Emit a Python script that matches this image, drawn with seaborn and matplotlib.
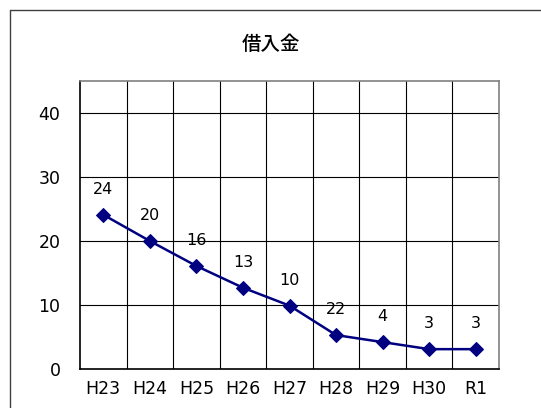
import numpy as np
import pandas as pd
import matplotlib.pyplot as plt
import seaborn as sns
from matplotlib.lines import Line2D

sns.set_style('white')
plt.rcParams['font.family'] = ['DejaVu Sans', 'Noto Sans CJK JP']
plt.rcParams['text.color'] = 'black'
plt.rcParams['xtick.color'] = 'black'
plt.rcParams['ytick.color'] = 'black'

years = ['H23', 'H24', 'H25', 'H26', 'H27', 'H28', 'H29', 'H30', 'R1']
values = [24.1, 20.0, 16.1, 12.7, 9.9, 5.3, 4.2, 3.1, 3.1]
labels = ['24', '20', '16', '13', '10', '22', '4', '3', '3']

df = pd.DataFrame({'year': years, 'value': values})
df['pos'] = np.arange(len(years))

fig = plt.figure(figsize=(5.41, 4.08), dpi=100)
ax = fig.add_axes([80/541, 1-369/408, 419/541, 288/408])

sns.lineplot(data=df, x='pos', y='value', ax=ax, color='#000080', lw=1.8,
             marker='D', markersize=7, markeredgecolor='#000080')

for x, y, t in zip(df['pos'], df['value'], labels):
    ax.annotate(t, (x, y), xytext=(0, 13), textcoords='offset points',
                ha='center', va='bottom', fontsize=11.5, color='black')

ax.set_xlim(-0.5, len(years) - 0.5)
ax.set_ylim(0, 45)
ax.set_yticks([0, 10, 20, 30, 40])
ax.set_xticks(df['pos'])
ax.set_xticklabels(years)
ax.set_xticks(np.arange(0.5, len(years) - 0.5), minor=True)
ax.grid(True, which='minor', axis='x', color='black', lw=0.8)
ax.grid(True, which='major', axis='y', color='black', lw=0.8)
ax.tick_params(axis='both', which='both', length=0, labelsize=12.5,
               labelcolor='black')
ax.tick_params(axis='y', pad=14)
ax.tick_params(axis='x', pad=8)
ax.set_xlabel('')
ax.set_ylabel('')
for s in ['top', 'right']:
    ax.spines[s].set_color('#808080')
for s in ['left', 'bottom']:
    ax.spines[s].set_color('black')
for s in ax.spines.values():
    s.set_linewidth(1.2)

fig.text(0.5, 1 - 44/408, '借入金', ha='center', va='center', fontsize=14,
         family=['Noto Sans CJK JP'], fontweight='medium', color='black')

# outer frame
fig.add_artist(Line2D([10/541, 10/541], [0, 1 - 10/408], color='#404040', lw=1))
fig.add_artist(Line2D([10/541, 1], [1 - 10/408, 1 - 10/408], color='#404040', lw=1))

fig.savefig('out.png', dpi=100)
